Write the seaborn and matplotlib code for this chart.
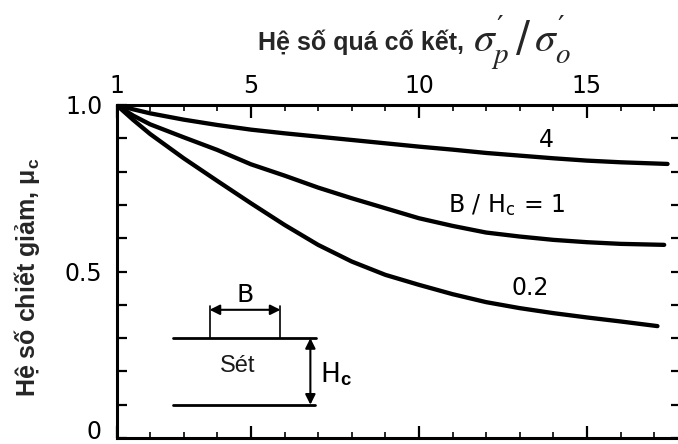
import matplotlib
matplotlib.use("Agg")
import matplotlib.pyplot as plt
import numpy as np
import pandas as pd
import seaborn as sns

# Overconsolidation ratio (sigma'_p / sigma'_o) and correction factor mu_c
ocr_4 = [1, 1.5, 2, 3, 4, 5, 6, 7, 8, 9, 10, 11, 12, 13, 14, 15, 16, 17.4]
mu_4 = [1.0, 0.987, 0.975, 0.956, 0.940, 0.926, 0.915, 0.905, 0.895, 0.885,
        0.875, 0.866, 0.856, 0.848, 0.840, 0.833, 0.828, 0.823]

ocr_1 = [1, 1.5, 2, 3, 4, 5, 6, 7, 8, 9, 10, 11, 12, 13, 14, 15, 16, 17.3]
mu_1 = [1.0, 0.968, 0.942, 0.903, 0.865, 0.822, 0.788, 0.752, 0.72, 0.69,
        0.66, 0.637, 0.617, 0.605, 0.595, 0.588, 0.583, 0.58]

ocr_02 = [1, 1.5, 2, 3, 4, 5, 6, 7, 8, 9, 10, 11, 12, 13, 14, 15, 16, 17.1]
mu_02 = [1.0, 0.955, 0.913, 0.84, 0.772, 0.705, 0.64, 0.58, 0.53, 0.49,
         0.46, 0.432, 0.408, 0.39, 0.375, 0.362, 0.35, 0.336]

ratio_names = ["4", "1", "0.2"]
x_ticks = [1, 5, 10, 15]
x_ticklabels = ["1", "5", "10", "15"]
y_ticks = [0, 0.5, 1.0]
y_ticklabels = ["", "0.5", "1.0"]

df = pd.concat([
    pd.DataFrame({"ocr": ocr_4, "mu": mu_4, "B/Hc": ratio_names[0]}),
    pd.DataFrame({"ocr": ocr_1, "mu": mu_1, "B/Hc": ratio_names[1]}),
    pd.DataFrame({"ocr": ocr_02, "mu": mu_02, "B/Hc": ratio_names[2]}),
])

sns.set_theme(style="ticks")
plt.rcParams["font.family"] = ["DejaVu Sans"]
plt.rcParams["mathtext.fontset"] = "custom"
plt.rcParams["mathtext.rm"] = "DejaVu Sans"
plt.rcParams["mathtext.it"] = "STIXGeneral:italic"
plt.rcParams["mathtext.bf"] = "Liberation Sans:bold"
plt.rcParams["mathtext.fallback"] = "stix"

fig = plt.figure(figsize=(6.78, 4.44), dpi=100)
ax = fig.add_axes([116.5 / 678, 6 / 444, (681 - 116.5) / 678, 333 / 444])

sns.lineplot(data=df, x="ocr", y="mu", hue="B/Hc", palette=["black"] * 3,
             linewidth=3.1, legend=False, ax=ax, sort=False,
             solid_capstyle="round", solid_joinstyle="round")

ax.set_xlim(1, 1 + (681 - 116.5) / 33.6)
ax.set_ylim(0, 1.0)

for side in ["left", "top", "bottom"]:
    ax.spines[side].set_linewidth(2.2)
    ax.spines[side].set_color("black")
ax.spines["right"].set_visible(False)

# top axis carries the labels; every axis has inward ticks
ax.xaxis.set_ticks_position("both")
ax.set_xticks(x_ticks)
ax.set_xticklabels(x_ticklabels)
ax.set_xticks([t for t in range(2, 18) if t not in x_ticks], minor=True)
ax.tick_params(axis="x", which="major", direction="in", length=9, width=1.6,
               top=True, bottom=True, labeltop=True, labelbottom=False,
               labelsize=17, pad=5, colors="black")
ax.tick_params(axis="x", which="minor", direction="in", length=4.5, width=1.4,
               top=True, bottom=True)

ax.set_yticks(y_ticks)
ax.set_yticklabels(y_ticklabels)
ax.set_yticks(np.round(np.arange(0.1, 1.0, 0.1), 1), minor=True)
ax.tick_params(axis="y", which="both", direction="in", length=7.5, width=1.6,
               left=True, right=True, labelsize=17, pad=10, colors="black")
# zero label sits low against the bottom edge
ax.annotate("0", xy=(0, 0), xycoords="axes fraction", xytext=(-10.5, -4),
            textcoords="offset points", ha="right", va="bottom",
            fontsize=17, color="black")

ax.set_xlabel("")
ax.set_ylabel("")

# curve labels
lab_kw = dict(fontsize=17, color="black", ha="center", va="center")
ax.text(13.8, 0.895, "4", **lab_kw)
ax.text(12.6, 0.70, r"B / H$_{\mathrm{c}}$ = 1", **lab_kw)
ax.text(13.3, 0.45, "0.2", **lab_kw)

# sketch of the clay layer of width B and thickness Hc
lw = 2.0
ax.plot([2.67, 6.95], [0.30, 0.30], color="black", lw=lw)
ax.plot([2.67, 6.90], [0.10, 0.10], color="black", lw=lw)
ax.annotate("", xy=(6.77, 0.10), xytext=(6.77, 0.30),
            arrowprops=dict(arrowstyle="<|-|>", color="black", lw=1.5,
                            mutation_scale=15, shrinkA=0, shrinkB=0))
ax.plot([3.77, 3.77], [0.30, 0.395], color="black", lw=1.2)
ax.plot([5.88, 5.88], [0.30, 0.395], color="black", lw=1.2)
ax.annotate("", xy=(3.77, 0.385), xytext=(5.88, 0.385),
            arrowprops=dict(arrowstyle="<|-|>", color="black", lw=1.5,
                            mutation_scale=15, shrinkA=0, shrinkB=0))
ax.text(4.83, 0.43, "B", fontsize=18, ha="center", va="center", color="black")
ax.text(7.05, 0.19, r"H$_{\mathbf{c}}$", fontsize=19, ha="left",
        va="center", color="black")
ax.text(4.6, 0.215, "Sét", fontsize=17, ha="center", va="center",
        color="#1a1a1a", family=["Liberation Sans", "DejaVu Sans"])

# titles
fig.text(0.695, 0.905, "Hệ số quá cố kết, ", fontsize=18, fontweight="bold",
         ha="right", va="center",
         family=["Liberation Sans", "DejaVu Sans"])
fig.text(0.698, 0.905, r"$\sigma^{\prime}_{p}\,/\,\sigma^{\prime}_{o}$",
         fontsize=30, ha="left", va="center")
fig.text(0.04, 0.376, r"Hệ số chiết giảm, $\mathbf{\mu_c}$", fontsize=18,
         fontweight="bold", rotation=90, ha="center", va="center",
         family=["Liberation Sans", "DejaVu Sans"])

fig.savefig("out.png", dpi=100)
